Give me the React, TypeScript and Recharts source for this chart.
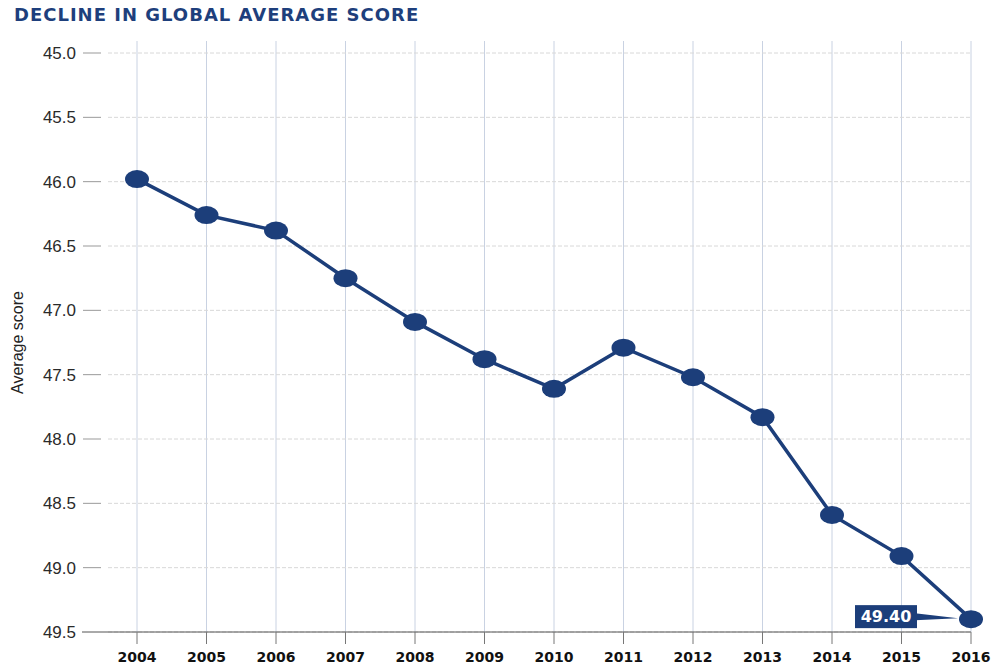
import React from 'react';
import {
  LineChart,
  Line,
  XAxis,
  YAxis,
  CartesianGrid,
  LabelList,
} from 'recharts';

const years = ['2004', '2005', '2006', '2007', '2008', '2009', '2010', '2011', '2012', '2013', '2014', '2015', '2016'];
const scores = [45.98, 46.26, 46.38, 46.75, 47.09, 47.38, 47.61, 47.29, 47.52, 47.83, 48.59, 48.91, 49.4];
const yTicks = [45, 45.5, 46, 46.5, 47, 47.5, 48, 48.5, 49, 49.5];

const NAVY = '#1c3e7a';

const data = years.map((year, i) => ({ year, score: scores[i] }));

const YTick = (props: any) => {
  const { x, y, payload } = props;
  const isBase = payload.value === yTicks[yTicks.length - 1];
  return (
    <g>
      <line
        x1={isBase ? x - 26 : x - 25}
        x2={isBase ? x : x - 7}
        y1={y}
        y2={y}
        stroke={isBase ? '#555' : '#999'}
        strokeWidth={1}
      />
      <text
        x={x - 32}
        y={y}
        dy="0.36em"
        textAnchor="end"
        fontFamily="'Liberation Sans', Arial, sans-serif"
        fontSize={17}
        fill="#2a2a2a"
      >
        {Number(payload.value).toFixed(1)}
      </text>
    </g>
  );
};

const AxisTitle = (props: any) => {
  const vb = props.viewBox || { x: 0, y: 0, height: 0 };
  const cx = vb.x + 17;
  const cy = vb.y + vb.height / 2 + 6;
  return (
    <text
      x={cx}
      y={cy}
      transform={`rotate(-90, ${cx}, ${cy})`}
      textAnchor="middle"
      dominantBaseline="central"
      fontFamily="'Liberation Sans Narrow', 'Liberation Sans', sans-serif"
      fontSize={16}
      fill="#222"
    >
      Average score
    </text>
  );
};

const Marker = (props: any) => {
  const { cx, cy, index } = props;
  if (cx == null || cy == null) return null;
  return <ellipse key={`dot-${index}`} cx={cx} cy={cy} rx={12} ry={9} fill={NAVY} />;
};

const Callout = (props: any) => {
  const { x, y, value, index } = props;
  const last = data.length - 1;
  if (index !== undefined ? index !== last : value !== scores[last]) return null;
  const right = x - 54;
  return (
    <g>
      <polygon points={`${right - 2},${y - 6} ${x - 13},${y - 1} ${right - 2},${y + 1}`} fill={NAVY} />
      <rect x={right - 62} y={y - 14} width={62} height={23} fill={NAVY} />
      <text
        x={right - 31}
        y={y + 3}
        textAnchor="middle"
        fontFamily="'DejaVu Sans', sans-serif"
        fontWeight="bold"
        fontSize={16}
        fill="#fff"
      >
        {Number(value).toFixed(2)}
      </text>
    </g>
  );
};

export default function App() {
  return (
    <div style={{ position: 'absolute', left: 0, top: 0, width: 992, height: 664, background: '#fff' }}>
      <div
        style={{
          position: 'absolute',
          left: 14,
          top: 3,
          lineHeight: '24px',
          fontFamily: "'DejaVu Sans', sans-serif",
          fontWeight: 'bold',
          fontSize: 18,
          letterSpacing: 1,
          color: '#1e3f7c',
          whiteSpace: 'nowrap',
        }}
      >
        DECLINE IN GLOBAL AVERAGE SCORE
      </div>
      <LineChart width={992} height={664} data={data} margin={{ top: 41, right: 21, bottom: 0, left: 0 }}>
        <CartesianGrid horizontal={false} vertical syncWithTicks stroke="#c9d2e2" strokeWidth={1} />
        <CartesianGrid horizontal vertical={false} syncWithTicks stroke="#d8d8d8" strokeDasharray="4 2" />
        <XAxis
          dataKey="year"
          padding={{ left: 29, right: 0 }}
          height={32}
          tickSize={12}
          tickMargin={8}
          axisLine={{ stroke: '#555' }}
          tickLine={{ stroke: '#777' }}
          interval={0}
          tick={{ fontFamily: "'DejaVu Sans', sans-serif", fontWeight: 'bold', fontSize: 14, fill: '#111' }}
        />
        <YAxis
          reversed
          domain={[45, 49.5]}
          ticks={yTicks}
          width={108}
          padding={{ top: 12, bottom: 0 }}
          axisLine={false}
          tickLine={false}
          tickSize={0}
          tickMargin={0}
          tick={<YTick />}
          label={<AxisTitle />}
          interval={0}
        />
        <Line
          type="linear"
          dataKey="score"
          stroke={NAVY}
          strokeWidth={3.5}
          dot={<Marker />}
          activeDot={false}
          isAnimationActive={false}
        >
          <LabelList dataKey="score" content={<Callout />} />
        </Line>
      </LineChart>
    </div>
  );
}
